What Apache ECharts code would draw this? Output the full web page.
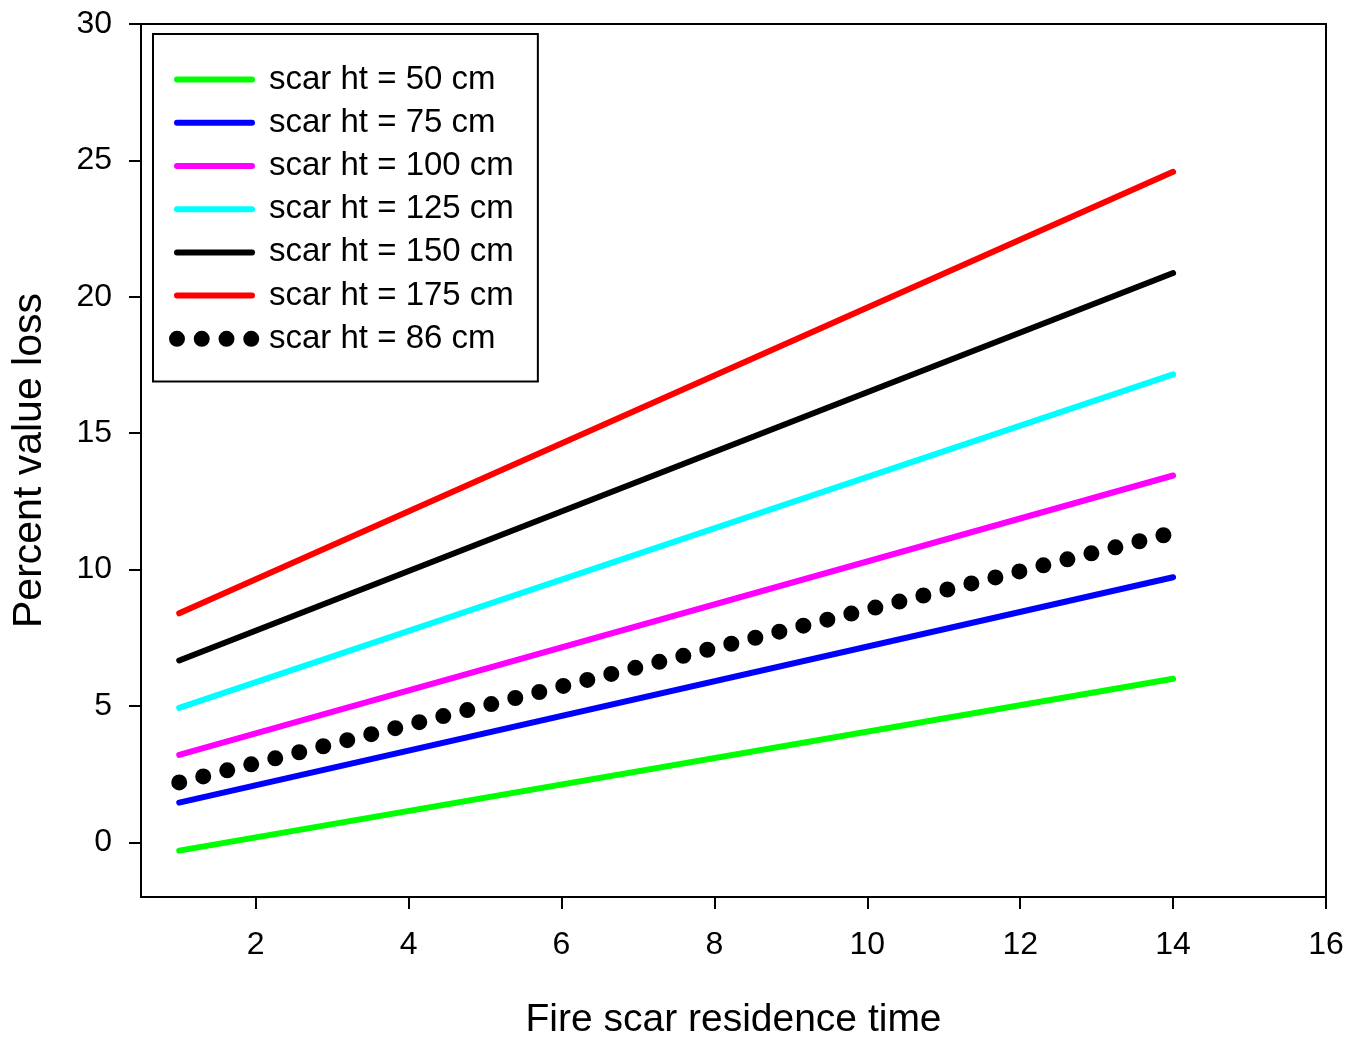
<!DOCTYPE html>
<html>
<head>
<meta charset="utf-8">
<title>Percent value loss vs fire scar residence time</title>
<script src="https://cdn.jsdelivr.net/npm/echarts@6/dist/echarts.min.js"></script>
<style>
  html, body { margin: 0; padding: 0; background: #fff; }
  #chart { width: 1360px; height: 1041px; }
</style>
</head>
<body>
<div id="chart"></div>
<script>
// Residence time at the two ends of each fitted line
const residenceTime = [1, 14];

// Percent value loss at residence time 1 and 14, per scar height
const scar50 = [-0.30, 6.00];
const scar75 = [1.46, 9.72];
const scar100 = [3.21, 13.45];
const scar125 = [4.93, 17.16];
const scar150 = [6.67, 20.87];
const scar175 = [8.40, 24.58];
const scar86 = [2.20, 11.35];

const seriesNames = [
  'scar ht = 50 cm', 'scar ht = 75 cm', 'scar ht = 100 cm', 'scar ht = 125 cm',
  'scar ht = 150 cm', 'scar ht = 175 cm', 'scar ht = 86 cm'
];
const seriesValues = [scar50, scar75, scar100, scar125, scar150, scar175, scar86];
const seriesColors = ['#00ff00', '#0000ff', '#ff00ff', '#00ffff', '#000000', '#ff0000', '#000000'];

// Tick labels
const xTicks = [2, 4, 6, 8, 10, 12, 14, 16];
const yTicks = [0, 5, 10, 15, 20, 25, 30];

const FONT = '"Liberation Sans", Arial, sans-serif';
const DOT_DASH = [0, 24.75];

function lineStyleFor(i) {
  const dotted = i === seriesNames.length - 1;
  return dotted
    ? { color: seriesColors[i], width: 16, type: DOT_DASH, cap: 'round' }
    : { color: seriesColors[i], width: 6, type: 'solid', cap: 'round' };
}

const series = seriesNames.map((name, i) => ({
  name: name,
  type: 'line',
  symbol: 'none',
  silent: true,
  animation: false,
  data: residenceTime.map((t, k) => [t, seriesValues[i][k]]),
  lineStyle: lineStyleFor(i),
  itemStyle: { color: seriesColors[i] },
  z: i === seriesNames.length - 1 ? 3 : 2
}));

const chart = echarts.init(document.getElementById('chart'), null, { renderer: 'canvas' });

chart.setOption({
  backgroundColor: '#ffffff',
  animation: false,
  textStyle: { fontFamily: FONT, color: '#000' },
  grid: {
    left: 141, right: 34, top: 24, bottom: 144,
    outerBoundsMode: 'none',
    containLabel: false,
    show: true, borderColor: '#000', borderWidth: 2, backgroundColor: 'transparent'
  },
  legend: {
    orient: 'vertical',
    left: 153,
    top: 34,
    padding: [24, 24, 21, 16],
    itemGap: 0,
    itemWidth: 75,
    itemHeight: 16,
    backgroundColor: '#fff',
    borderColor: '#000',
    borderWidth: 2,
    selectedMode: false,
    itemStyle: { opacity: 0 },
    textStyle: { fontFamily: FONT, fontSize: 33, color: '#000', lineHeight: 43.2, padding: [0, 0, 0, 12] },
    data: seriesNames.map((name, i) => ({ name: name, lineStyle: lineStyleFor(i) }))
  },
  xAxis: {
    type: 'value',
    min: 0.5,
    max: 16,
    name: 'Fire scar residence time',
    nameLocation: 'middle',
    nameGap: 104,
    nameTextStyle: { fontFamily: FONT, fontSize: 39, color: '#000' },
    axisLine: { show: true, onZero: false, lineStyle: { color: '#000', width: 2 } },
    axisTick: { show: true, inside: false, length: 12, customValues: xTicks, lineStyle: { color: '#000', width: 2 } },
    axisLabel: { show: true, customValues: xTicks, fontFamily: FONT, fontSize: 32, color: '#000', margin: 32 },
    splitLine: { show: false }
  },
  yAxis: {
    type: 'value',
    min: -2,
    max: 30,
    name: 'Percent value loss',
    nameLocation: 'middle',
    nameGap: 91,
    nameTextStyle: { fontFamily: FONT, fontSize: 41, color: '#000' },
    axisLine: { show: true, onZero: false, lineStyle: { color: '#000', width: 2 } },
    axisTick: { show: true, inside: false, length: 12, customValues: yTicks, lineStyle: { color: '#000', width: 2 } },
    axisLabel: { show: true, customValues: yTicks, fontFamily: FONT, fontSize: 32, color: '#000', margin: 29 },
    splitLine: { show: false }
  },
  series: series
});
</script>
</body>
</html>
